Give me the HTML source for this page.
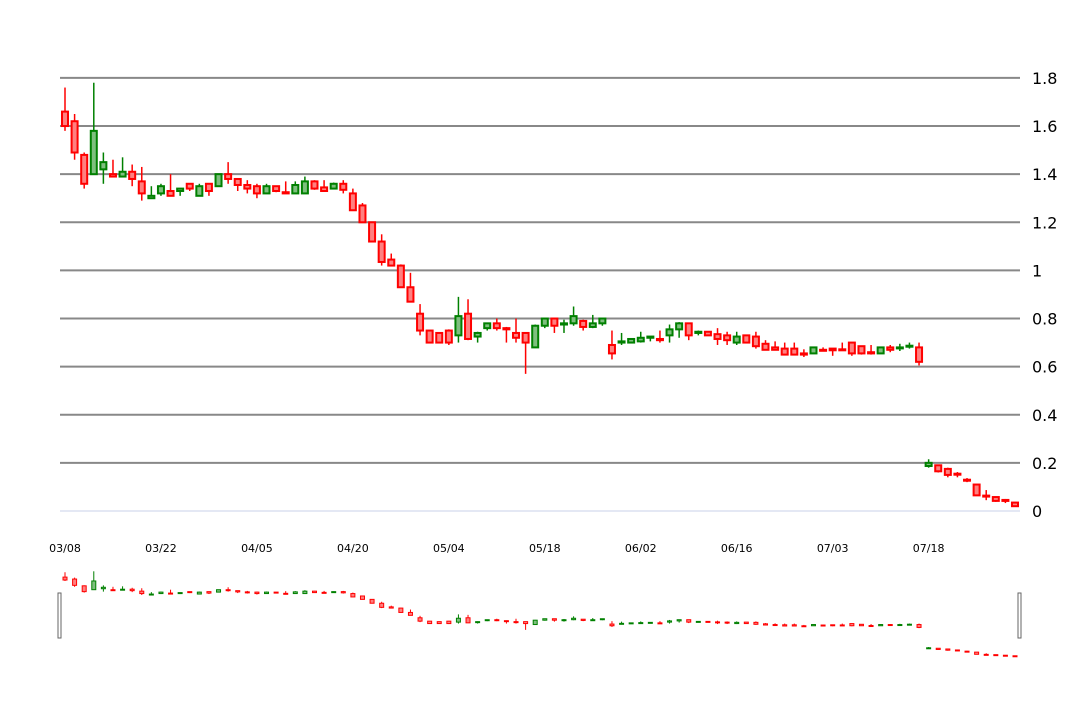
<!DOCTYPE html>
<html><head><meta charset="utf-8"><style>
body{margin:0;background:#fff;font-family:"DejaVu Sans","Liberation Sans",sans-serif}
svg{display:block;font-family:"DejaVu Sans","Liberation Sans",sans-serif}
</style></head><body>
<svg id="chart" width="1080" height="720" xmlns="http://www.w3.org/2000/svg"></svg>
<script>
const opens=[1.66,1.62,1.48,1.40,1.42,1.40,1.39,1.41,1.37,1.30,1.32,1.33,1.33,1.36,1.31,1.36,1.35,1.40,1.38,1.355,1.35,1.32,1.35,1.325,1.32,1.32,1.37,1.345,1.34,1.36,1.32,1.27,1.20,1.12,1.045,1.02,0.93,0.82,0.75,0.74,0.75,0.73,0.82,0.725,0.76,0.78,0.76,0.74,0.74,0.68,0.77,0.80,0.775,0.78,0.79,0.765,0.78,0.69,0.70,0.70,0.705,0.72,0.715,0.73,0.755,0.78,0.74,0.745,0.735,0.73,0.70,0.73,0.725,0.695,0.68,0.675,0.675,0.655,0.655,0.67,0.675,0.672,0.70,0.685,0.66,0.655,0.68,0.677,0.685,0.68,0.187,0.19,0.175,0.155,0.13,0.11,0.064,0.058,0.046,0.035];
const closes=[1.60,1.49,1.36,1.58,1.45,1.39,1.41,1.38,1.32,1.31,1.35,1.31,1.34,1.34,1.35,1.33,1.40,1.38,1.355,1.34,1.32,1.35,1.33,1.32,1.355,1.37,1.34,1.33,1.36,1.335,1.25,1.20,1.12,1.035,1.02,0.93,0.87,0.75,0.70,0.70,0.70,0.81,0.715,0.74,0.78,0.76,0.755,0.72,0.70,0.77,0.80,0.77,0.78,0.81,0.765,0.78,0.80,0.655,0.705,0.715,0.72,0.725,0.71,0.755,0.78,0.73,0.745,0.73,0.715,0.71,0.725,0.70,0.685,0.67,0.67,0.65,0.65,0.65,0.68,0.667,0.668,0.67,0.655,0.655,0.655,0.68,0.67,0.68,0.687,0.62,0.20,0.165,0.15,0.153,0.128,0.065,0.06,0.042,0.043,0.02];
const highs=[1.76,1.65,1.49,1.78,1.49,1.46,1.47,1.44,1.43,1.35,1.36,1.40,1.34,1.36,1.36,1.36,1.40,1.45,1.38,1.375,1.36,1.36,1.35,1.37,1.37,1.39,1.375,1.375,1.365,1.375,1.34,1.28,1.20,1.15,1.07,1.025,0.99,0.86,0.75,0.74,0.755,0.89,0.88,0.745,0.78,0.80,0.765,0.80,0.74,0.775,0.80,0.80,0.795,0.85,0.795,0.815,0.80,0.75,0.74,0.715,0.745,0.72,0.75,0.775,0.785,0.78,0.75,0.745,0.76,0.745,0.745,0.73,0.745,0.71,0.705,0.70,0.70,0.672,0.68,0.68,0.675,0.70,0.70,0.685,0.69,0.68,0.69,0.695,0.70,0.70,0.215,0.19,0.18,0.162,0.137,0.11,0.087,0.058,0.05,0.037];
const lows=[1.58,1.46,1.34,1.40,1.36,1.39,1.39,1.35,1.29,1.30,1.31,1.31,1.31,1.33,1.31,1.31,1.35,1.36,1.33,1.32,1.30,1.32,1.325,1.32,1.32,1.32,1.335,1.33,1.34,1.32,1.25,1.20,1.12,1.02,1.02,0.93,0.87,0.73,0.70,0.70,0.69,0.70,0.71,0.70,0.75,0.75,0.70,0.70,0.57,0.68,0.76,0.74,0.74,0.77,0.75,0.76,0.77,0.63,0.69,0.70,0.70,0.705,0.70,0.70,0.72,0.71,0.73,0.73,0.69,0.69,0.69,0.70,0.675,0.67,0.67,0.65,0.65,0.64,0.655,0.665,0.645,0.665,0.645,0.65,0.65,0.655,0.66,0.665,0.675,0.605,0.18,0.16,0.14,0.14,0.12,0.065,0.045,0.038,0.033,0.017];
const tickLabels=["03/08","03/22","04/05","04/20","05/04","05/18","06/02","06/16","07/03","07/18"];
const yTicks=[0,0.2,0.4,0.6,0.8,1,1.2,1.4,1.6,1.8];

const NS="http://www.w3.org/2000/svg";
const svg=document.getElementById('chart');
function mk(t,a,p){const e=document.createElementNS(NS,t);for(const k in a)e.setAttribute(k,a[k]);(p||svg).appendChild(e);return e;}
const N=opens.length;
const xS=i=>65+i*(1015-65)/(N-1);
const yS=v=>511-v*240.6;
const yM=v=>656-(v-0.03)*48.4;

const grid=mk('g',{});


yTicks.forEach(t=>{
  const l=mk('line',{x1:60,x2:1020,y1:yS(t),y2:yS(t),stroke:t===0?'#e4e8f4':'#888','stroke-width':2},grid);
  
  
  const tx=mk('text',{x:1032,y:yS(t)+6,'font-size':16,fill:'#000'},grid);
  tx.textContent=String(t);
  
  
});
tickLabels.forEach((s,k)=>{
  const tx=mk('text',{x:xS(k*10),y:552,'font-size':11,'text-anchor':'middle',fill:'#000'});
  tx.textContent=s;
  
  
});
function candle(i,ys,w,parent,name){
  const up=closes[i]>=opens[i];
  const col=up?'#008000':'#ff0000', fill=up?'#7fbf7f':'#ff8080';
  const g=mk('g',{},parent);
  
  
  const x=xS(i);
  mk('line',{x1:x,x2:x,y1:ys(highs[i]),y2:ys(lows[i]),stroke:col,'stroke-width':w>4?1.5:1},g);
  const top=ys(Math.max(opens[i],closes[i])), bot=ys(Math.min(opens[i],closes[i]));
  mk('rect',{x:x-w/2,y:top,width:w,height:Math.max(bot-top,1),fill:fill,stroke:col,'stroke-width':w>4?2:1},g);
}
const main=mk('g',{});


for(let i=0;i<N;i++)candle(i,yS,6,main,'candle');
const nav=mk('g',{});


for(let i=0;i<N;i++)candle(i,yM,4,nav,'mini-candle');
[58,1018].forEach(x=>{
  const h=mk('rect',{x:x,y:593,width:3,height:45,fill:'#fff',stroke:'#666','stroke-width':1},nav);
  
  
});
</script>
</body></html>
